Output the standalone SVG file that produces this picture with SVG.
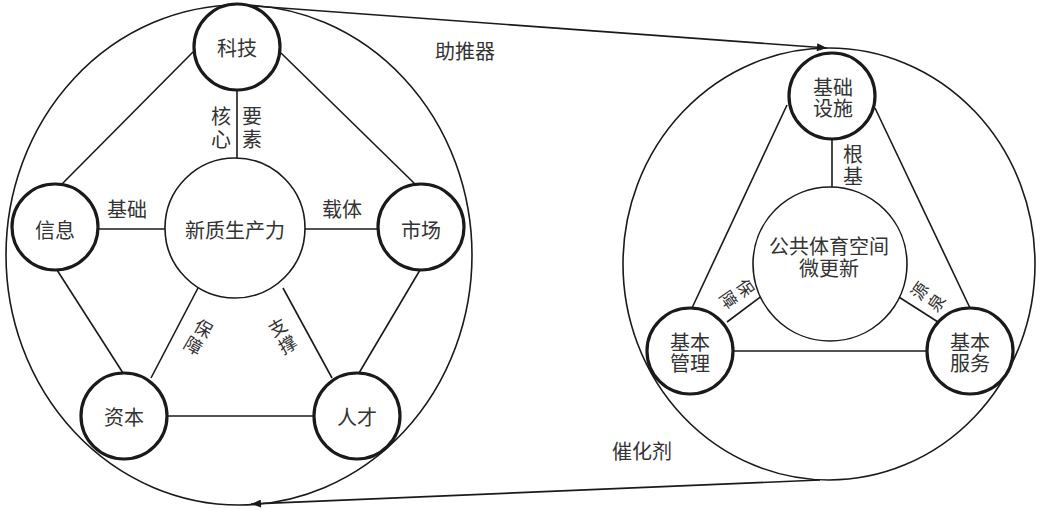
<svg xmlns="http://www.w3.org/2000/svg" width="1041" height="510" viewBox="0 0 1041 510">
<style>
text{font-family:"Noto Sans CJK SC","Noto Sans",sans-serif;font-size:20px;fill:#333;text-anchor:middle;dominant-baseline:central}
.sm{font-size:18px}
.xs{font-size:17px}
.big{fill:none;stroke:#1a1a1a;stroke-width:1.6}
.node{fill:#fff;stroke:#1a1a1a;stroke-width:3.2}
.core{fill:#fff;stroke:#1a1a1a;stroke-width:1.6}
.edge{stroke:#1a1a1a;stroke-width:1.6;fill:none}
</style>
<defs>
<marker id="ah" viewBox="0 0 10 8" refX="10" refY="4" markerWidth="11" markerHeight="8" markerUnits="userSpaceOnUse" orient="auto">
<path d="M0,0 L10,4 L0,8 Z" fill="#1a1a1a"/>
</marker>
</defs>
<g id="outer-left"><ellipse class="big" cx="239" cy="255" rx="233" ry="250"/></g>
<g id="outer-right"><ellipse class="big" cx="829" cy="264" rx="206" ry="216"/></g>
<g id="connectors">
<line class="edge" x1="240" y1="5" x2="827" y2="48" marker-end="url(#ah)"/>
<line class="edge" x1="820" y1="480" x2="251" y2="504" marker-end="url(#ah)"/>
<line class="edge" x1="193" y1="52" x2="62" y2="184"/>
<line class="edge" x1="281" y1="53" x2="415" y2="184"/>
<line class="edge" x1="57" y1="270" x2="123" y2="373"/>
<line class="edge" x1="420" y1="270" x2="359" y2="373"/>
<line class="edge" x1="167" y1="416" x2="314" y2="416"/>
<line class="edge" x1="237" y1="90" x2="237" y2="158"/>
<line class="edge" x1="98" y1="229" x2="165" y2="229"/>
<line class="edge" x1="305" y1="229" x2="378" y2="229"/>
<line class="edge" x1="198" y1="288" x2="151" y2="378"/>
<line class="edge" x1="283" y1="288" x2="332" y2="378"/>
<line class="edge" x1="787" y1="105" x2="692" y2="308"/>
<line class="edge" x1="875" y1="108" x2="970" y2="308"/>
<line class="edge" x1="733" y1="351" x2="927" y2="351"/>
<line class="edge" x1="832" y1="139" x2="832" y2="188"/>
<line class="edge" x1="727" y1="322" x2="767" y2="292"/>
<line class="edge" x1="891" y1="292" x2="938" y2="322"/>
</g>
<g id="n-core-left"><circle class="core" cx="235" cy="228" r="70"/><text x="235" y="229">新质生产力</text></g>
<g id="n-keji"><circle class="node" cx="237" cy="47" r="43"/><text x="237" y="47">科技</text></g>
<g id="n-xinxi"><circle class="node" cx="55" cy="227" r="43"/><text x="55" y="229">信息</text></g>
<g id="n-shichang"><circle class="node" cx="421" cy="227" r="43"/><text x="421" y="229">市场</text></g>
<g id="n-ziben"><circle class="node" cx="124" cy="416" r="43"/><text x="124" y="416">资本</text></g>
<g id="n-rencai"><circle class="node" cx="357" cy="416" r="43"/><text x="357" y="416">人才</text></g>
<g id="labels-left">
<text x="221" y="115">核<tspan x="221" dy="23">心</tspan></text>
<text x="252" y="115">要<tspan x="252" dy="23">素</tspan></text>
<text x="127" y="208">基础</text>
<text x="342" y="208">载体</text>
<g transform="translate(199,336) rotate(30)"><text class="sm" x="0" y="-10">保<tspan x="0" dy="20">障</tspan></text></g>
<g transform="translate(282,335) rotate(-30)"><text class="sm" x="0" y="-10">支<tspan x="0" dy="20">撑</tspan></text></g>
<text x="465" y="50">助推器</text>
</g>
<g id="n-core-right"><circle class="core" cx="830" cy="264" r="77"/><text x="829" y="245">公共体育空间<tspan x="829" dy="22">微更新</tspan></text></g>
<g id="n-jichusheshi"><circle class="node" cx="832" cy="96" r="43"/><text x="833" y="86">基础<tspan x="833" dy="21">设施</tspan></text></g>
<g id="n-guanli"><circle class="node" cx="690" cy="351" r="43"/><text x="690" y="341">基本<tspan x="690" dy="21">管理</tspan></text></g>
<g id="n-fuwu"><circle class="node" cx="970" cy="351" r="43"/><text x="970" y="341">基本<tspan x="970" dy="21">服务</tspan></text></g>
<g id="labels-right">
<text x="853" y="153">根<tspan x="853" dy="22">基</tspan></text>
<g transform="translate(738,293) rotate(55)"><text class="xs" x="0" y="-10">保<tspan x="0" dy="20">障</tspan></text></g>
<g transform="translate(927,296) rotate(-55)"><text class="xs" x="0" y="-10">源<tspan x="0" dy="20">泉</tspan></text></g>
<text x="642" y="450">催化剂</text>
</g>
</svg>
